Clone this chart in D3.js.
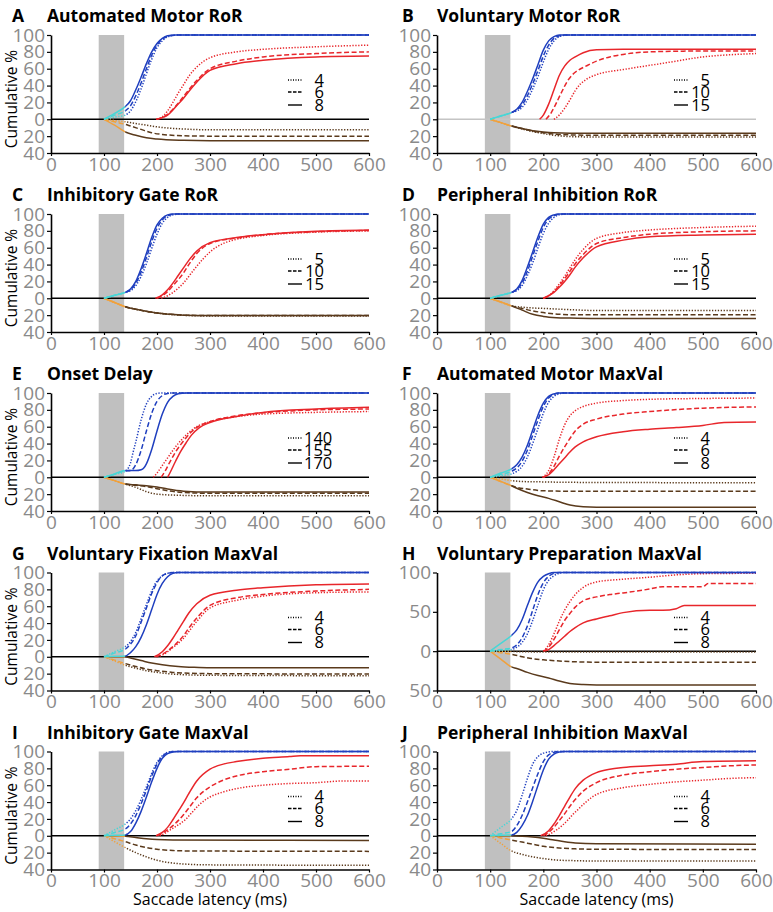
<!DOCTYPE html>
<html><head><meta charset="utf-8">
<script src="https://cdn.jsdelivr.net/npm/d3@7"></script>
<style>
html,body{margin:0;padding:0;background:#fff;}
svg{display:block;font-family:"Open Sans",sans-serif;}
</style></head>
<body>
<script>
// ---------- data (each series: [latency ms, cumulative %]) ; order: dotted, dashed, solid ----------
const letters = ["A","B","C","D","E","F","G","H","I","J"];
const titles = ["Automated Motor RoR","Voluntary Motor RoR","Inhibitory Gate RoR","Peripheral Inhibition RoR","Onset Delay","Automated Motor MaxVal","Voluntary Fixation MaxVal","Voluntary Preparation MaxVal","Inhibitory Gate MaxVal","Peripheral Inhibition MaxVal"];
const legends = [["4","6","8"],["5","10","15"],["5","10","15"],["5","10","15"],["140","155","170"],["4","6","8"],["4","6","8"],["4","6","8"],["4","6","8"],["4","6","8"]];
const xTicks = [0,100,200,300,400,500,600];
const yTicks = [100,80,60,40,20,0,-20,-40];
const yTicksH = [100,50,0,-50];
const stimWindow = [90,138];

const A_blue = [
 [[100,0],[120,2.5],[140,5],[150,10],[160,21],[170,36],[180,54],[190,71],[200,85],[210,93],[220,98],[240,100],[600,100]],
 [[100,0],[120,5],[140,10],[150,16],[160,28],[170,43],[180,60],[190,76],[200,88],[210,95],[220,98.5],[240,100],[600,100]],
 [[100,0],[120,7],[140,15],[150,22],[160,35],[170,50],[180,66],[190,80],[200,90],[210,96],[220,99],[235,100],[600,100]]];
const A_red = [
 [[200,0],[210,3],[220,10],[230,20],[240,31],[250,41],[260,51],[275,62],[300,73],[350,80],[400,83],[500,86],[600,88]],
 [[200,0],[210,2],[220,6],[230,12],[240,19],[250,27],[260,35],[275,46],[300,60],[350,69],[400,74],[500,78],[600,80]],
 [[198,0],[210,2],[220,5],[230,11],[240,18],[250,25],[260,33],[275,44],[300,58],[350,66],[400,70],[500,74],[600,75]]];
const A_brown = [
 [[100,0],[120,-1.5],[140,-3],[160,-5],[180,-7],[200,-9],[250,-11.5],[300,-12.5],[600,-12.5]],
 [[100,0],[120,-3],[140,-6],[150,-8],[170,-12],[190,-16],[210,-18],[250,-19.5],[300,-20],[600,-20]],
 [[100,0],[120,-7],[140,-15],[160,-19],[180,-22],[200,-23.5],[250,-25],[300,-25.5],[600,-25.5]]];

const B_blue = [
 [[100,0],[120,4],[140,8],[150,10],[160,14],[170,23],[180,36],[190,51],[200,68],[210,83],[220,93],[230,98],[245,100],[600,100]],
 [[100,0],[120,4],[140,8],[150,11],[160,17],[170,28],[180,42],[190,58],[200,75],[210,88],[220,96],[230,99],[240,100],[600,100]],
 [[100,0],[120,4],[140,8],[150,12],[160,20],[170,33],[180,48],[190,65],[200,82],[210,93],[220,98],[230,100],[600,100]]];
const B_red = [
 [[220,0],[230,5],[240,13],[250,23],[260,34],[270,42],[280,47],[300,53],[350,59],[400,64],[450,69],[500,74],[550,76.5],[600,78]],
 [[205,0],[215,8],[225,20],[235,33],[245,45],[255,53],[265,58],[280,63],[300,69],[325,74],[350,77],[400,80],[500,81],[600,81]],
 [[193,0],[200,5],[210,18],[220,35],[230,52],[240,63],[250,70],[260,74],[275,79],[300,82.5],[350,83],[600,83]]];
const B_brown = [
 [[100,0],[120,-4],[140,-8],[160,-11.5],[180,-14.5],[200,-17],[220,-19],[250,-20.5],[300,-21],[600,-21]],
 [[100,0],[120,-4],[140,-8],[160,-11],[180,-14],[200,-16],[220,-17.5],[250,-18.5],[300,-19],[600,-19]],
 [[100,0],[120,-4],[140,-8],[160,-11],[180,-13.5],[200,-15],[220,-16],[250,-16.5],[600,-16.5]]];

const C_blue = [
 [[100,0],[120,3.5],[140,7],[150,9],[160,15],[170,26],[180,41],[190,59],[200,76],[210,89],[220,96],[230,99],[245,100],[600,100]],
 [[100,0],[120,3.5],[140,7],[150,10],[160,18],[170,31],[180,48],[190,67],[200,83],[210,93],[220,98],[235,100],[600,100]],
 [[100,0],[120,3.5],[140,7],[150,11],[160,20],[170,35],[180,53],[190,72],[200,87],[210,95],[220,99],[230,100],[600,100]]];
const C_red = [
 [[208,0],[220,3],[230,7],[240,12],[250,18],[260,26],[275,38],[300,55],[325,65],[350,70],[400,74.5],[500,78.5],[600,80]],
 [[200,0],[210,3],[220,8],[230,15],[240,22],[250,30],[260,40],[275,53],[300,65],[350,71.5],[400,75.5],[500,79],[600,80.5]],
 [[197,0],[210,4],[220,10],[230,18],[240,27],[250,36],[260,45],[275,56],[300,66],[350,72],[400,75.5],[500,79.5],[600,81]]];
const C_brown = [
 [[100,0],[120,-5],[140,-10],[160,-13],[180,-15.5],[200,-17.5],[225,-19.2],[250,-20.2],[300,-21],[600,-21]],
 [[100,0],[120,-5],[140,-10],[160,-13],[180,-15.5],[200,-17.5],[225,-19],[250,-20],[300,-20.5],[600,-20.5]],
 [[100,0],[120,-5],[140,-10],[160,-13],[180,-15.5],[200,-17.5],[225,-19],[250,-20],[300,-20.5],[600,-20.5]]];

const D_blue = [
 [[100,0],[120,3.5],[140,7],[150,9],[160,15],[170,27],[180,42],[190,60],[200,77],[210,89],[220,96],[230,99],[245,100],[600,100]],
 [[100,0],[120,3.5],[140,7],[150,10],[160,18],[170,32],[180,50],[190,68],[200,84],[210,94],[220,98],[235,100],[600,100]],
 [[100,0],[120,3.5],[140,7],[150,11],[160,21],[170,37],[180,55],[190,73],[200,88],[210,96],[220,99],[230,100],[600,100]]];
const D_red = [
 [[200,0],[210,3],[220,9],[230,17],[240,26],[250,36],[260,46],[275,58],[300,71],[350,78],[400,81],[500,84],[600,85.5]],
 [[200,0],[210,3],[220,8],[230,15],[240,23],[250,32],[260,41],[275,52],[300,65],[350,72],[400,76],[500,79],[600,80]],
 [[200,0],[210,3],[220,7],[230,13],[240,20],[250,28],[260,37],[275,48],[300,61],[350,69],[400,73],[500,75],[600,76]]];
const D_brown = [
 [[100,0],[120,-4.5],[140,-9],[160,-10.5],[180,-11.5],[200,-12],[250,-13.5],[300,-14.5],[600,-14.5]],
 [[100,0],[120,-4.5],[140,-9],[160,-12],[180,-15],[200,-17],[230,-19],[260,-19.5],[600,-19.5]],
 [[100,0],[120,-4.5],[140,-9],[160,-14],[180,-19],[200,-21.5],[225,-23],[250,-23.5],[300,-24],[600,-24]]];

const E_blue = [
 [[100,0],[120,3.5],[140,7],[145,10],[150,17],[155,30],[160,42],[170,68],[180,87],[190,96],[200,99.5],[210,100],[600,100]],
 [[100,0],[120,3.7],[140,7.5],[150,8],[155,10],[160,15],[170,32],[180,55],[190,76],[200,90],[210,97],[220,99.5],[230,100],[600,100]],
 [[100,0],[120,4],[140,8],[160,8],[170,9],[175,11],[180,16],[190,33],[200,55],[210,75],[220,89],[230,96],[240,99],[255,100],[600,100]]];
const E_red = [
 [[193,0],[200,5],[210,14],[220,23],[230,32],[240,40],[250,47],[260,53],[275,60],[300,66],[350,72],[400,75],[500,77],[600,78]],
 [[208,0],[215,7],[225,19],[235,30],[245,39],[255,47],[265,54],[280,61],[300,66],[350,73],[400,76.5],[500,80],[600,81]],
 [[220,0],[225,6],[235,19],[245,31],[255,41],[265,50],[280,59],[300,65],[350,72],[400,77],[500,81],[600,83]]];
const E_brown = [
 [[100,0],[120,-4],[140,-8],[160,-12],[180,-17],[200,-20],[250,-21.5],[300,-22],[600,-22]],
 [[100,0],[120,-4],[140,-8],[160,-9.5],[180,-11],[200,-13.5],[220,-16],[250,-18],[300,-19],[600,-19]],
 [[100,0],[120,-4],[140,-8],[160,-9],[180,-10],[200,-11.5],[220,-14],[250,-16.5],[300,-17.5],[600,-17.5]]];

const F_blue = [
 [[100,0],[120,2],[140,4],[150,7],[160,13],[170,24],[180,40],[190,58],[200,76],[210,89],[220,96],[230,99],[240,100],[600,100]],
 [[100,0],[120,3.5],[140,7],[150,11],[160,19],[170,32],[180,50],[190,68],[200,84],[210,94],[220,98.5],[232,100],[600,100]],
 [[100,0],[120,5],[140,10],[150,15],[160,24],[170,38],[180,56],[190,74],[200,88],[210,96],[220,99],[228,100],[600,100]]];
const F_red = [
 [[198,0],[210,8],[220,24],[230,45],[240,62],[250,73],[260,79],[275,84],[300,88],[350,91],[400,92.5],[500,93.5],[600,94]],
 [[200,0],[210,4],[220,13],[230,25],[240,36],[250,46],[260,55],[275,63],[300,69],[350,75],[400,78],[500,82],[600,83.5]],
 [[200,0],[210,3],[220,9],[230,16],[240,23],[250,30],[260,36],[275,42],[300,48],[350,54],[400,57],[450,59],[500,61.5],[540,65],[600,65.5]]];
const F_brown = [
 [[100,0],[120,-2],[140,-4],[160,-5],[200,-5.5],[250,-6],[600,-6.5]],
 [[100,0],[120,-5],[140,-10],[150,-12],[170,-14],[200,-16],[250,-16.5],[600,-16.5]],
 [[100,0],[120,-5],[140,-10],[150,-13],[170,-18],[190,-22],[210,-25],[230,-29],[250,-33],[275,-35],[300,-35.5],[600,-35.5]]];

const G_blue = [
 [[100,0],[120,6],[140,12],[150,18],[160,29],[170,45],[180,62],[190,78],[200,90],[210,96],[220,99],[230,100],[600,100]],
 [[100,0],[120,4.5],[140,9],[150,15],[160,25],[170,41],[180,58],[190,75],[200,88],[210,96],[220,99],[232,100],[600,100]],
 [[100,0],[120,0.5],[140,1],[150,5],[160,12],[170,23],[180,38],[190,56],[200,74],[210,87],[220,95],[230,99],[240,100],[600,100]]];
const G_red = [
 [[200,0],[210,2],[220,6],[230,11],[240,16],[250,22],[260,30],[275,42],[300,58],[350,67],[400,72],[500,76],[600,77]],
 [[198,0],[210,3],[220,7],[230,12],[240,18],[250,25],[260,34],[275,46],[300,61],[350,70],[400,74],[500,78],[600,80]],
 [[195,0],[210,6],[220,13],[230,22],[240,32],[250,42],[260,52],[275,63],[300,73],[350,79],[400,82],[500,85.5],[600,86.5]]];
const G_brown = [
 [[100,0],[120,-5],[140,-10],[160,-13.5],[180,-16.5],[200,-18.5],[230,-20.5],[260,-21.5],[300,-22],[600,-22.5]],
 [[100,0],[120,-4],[140,-8],[160,-11.5],[180,-14.5],[200,-16.5],[230,-18.5],[260,-19.5],[300,-20],[600,-20.5]],
 [[100,0],[120,0],[140,0],[150,-1.5],[170,-4.5],[190,-7.5],[210,-9.5],[240,-11.5],[270,-12.5],[300,-13],[600,-13]]];

const H_blue = [
 [[100,0],[120,1],[140,2],[150,5],[160,11],[170,22],[180,39],[190,59],[200,78],[210,90],[220,96],[230,99],[240,100],[600,100]],
 [[100,0],[120,2],[140,4],[150,8],[160,17],[170,32],[180,52],[190,72],[200,87],[210,95],[220,99],[230,100],[600,100]],
 [[100,0],[120,10],[140,20],[150,27],[160,40],[170,58],[180,75],[190,88],[200,95],[210,98.5],[220,100],[600,100]]];
const H_red = [
 [[200,0],[210,8],[220,22],[230,38],[240,52],[250,63],[260,72],[275,81],[300,88],[350,91.5],[400,94],[450,97],[500,98.5],[600,99]],
 [[200,0],[210,5],[220,15],[230,27],[240,39],[250,48],[260,56],[275,64],[300,69],[325,72],[350,74],[400,79],[425,82],[500,82],[510,86],[600,86]],
 [[200,0],[210,2],[220,7],[230,13],[240,19],[250,25],[260,30],[275,36],[300,41],[325,45],[350,49],[400,52],[425,52],[450,54],[465,58],[600,58]]];
const H_brown = [
 [[100,0],[140,-0.5],[200,-1],[600,-1]],
 [[100,0],[120,-2],[140,-4],[160,-7],[180,-9.5],[200,-11],[230,-12.5],[260,-13.5],[300,-14],[600,-14]],
 [[100,0],[120,-10],[140,-20],[150,-22],[170,-27],[190,-31],[210,-34],[230,-38],[250,-41],[275,-42.5],[300,-43],[600,-43]]];

const I_blue = [
 [[100,0],[120,7],[140,14],[150,20],[160,30],[170,43],[180,58],[190,74],[200,87],[210,95],[220,99],[230,100],[600,100]],
 [[100,0],[120,4],[140,8],[150,14],[160,24],[170,38],[180,54],[190,71],[200,85],[210,94],[220,98.5],[232,100],[600,100]],
 [[100,0],[120,0.5],[140,1],[150,5],[160,15],[170,29],[180,46],[190,64],[200,80],[210,92],[220,97.5],[230,99.5],[240,100],[600,100]]];
const I_red = [
 [[205,0],[215,3],[225,7],[235,11],[245,15],[255,20],[265,27],[280,37],[300,46],[325,52],[350,56],[400,60],[450,62],[500,63],[550,65],[600,65]],
 [[200,0],[210,3],[220,7],[230,12],[240,18],[250,25],[260,33],[275,45],[300,58],[325,66],[350,71],[400,76],[450,79],[500,82],[600,82.5]],
 [[198,0],[210,4],[220,10],[230,19],[240,29],[250,39],[260,50],[275,65],[300,79],[325,85],[350,88],[400,92],[450,94],[470,95],[600,95]]];
const I_brown = [
 [[100,0],[120,-7],[140,-14],[160,-20],[180,-25],[200,-29],[225,-32],[250,-33.5],[300,-34.5],[600,-35]],
 [[100,0],[120,-3.5],[140,-7],[160,-11],[180,-14],[200,-16],[230,-17.5],[260,-18],[600,-18.5]],
 [[100,0],[140,-0.5],[160,-2],[180,-3.5],[200,-4.5],[230,-5],[600,-5.5]]];

const J_blue = [
 [[100,0],[120,10],[140,20],[150,30],[160,48],[170,68],[180,85],[190,94],[200,98],[210,99.5],[215,100],[600,100]],
 [[100,0],[120,2.5],[140,5],[150,12],[160,24],[170,40],[180,57],[190,74],[200,88],[210,96],[220,99],[230,100],[600,100]],
 [[100,0],[120,0.5],[140,1],[150,4],[160,12],[170,24],[180,41],[190,60],[200,78],[210,91],[220,97],[230,99.5],[240,100],[600,100]]];
const J_red = [
 [[205,0],[215,3],[225,7],[235,12],[245,18],[255,25],[265,31],[280,40],[300,49],[350,57],[400,61],[450,64],[500,66],[550,68],[600,69]],
 [[200,0],[210,4],[220,10],[230,18],[240,26],[250,35],[260,43],[275,53],[300,63],[350,72],[400,76],[450,79],[500,81],[550,83],[600,84]],
 [[195,0],[210,6],[220,14],[230,24],[240,35],[250,46],[260,56],[275,66],[300,75],[325,79],[350,81],[400,83],[450,85],[500,88],[600,89]]];
const J_brown = [
 [[100,0],[120,-9],[140,-18],[160,-22],[180,-25],[200,-27],[230,-29],[260,-29.5],[300,-30],[600,-30]],
 [[100,0],[120,-2.5],[140,-5],[160,-7.5],[180,-10],[200,-12.5],[230,-14.5],[260,-15.5],[300,-16],[600,-16.3]],
 [[100,0],[140,0],[160,-0.5],[180,-1.5],[200,-3],[220,-5],[240,-7],[260,-8.5],[300,-9.5],[600,-10]]];

// ---------- layout / styles ----------
const blues = [A_blue,B_blue,C_blue,D_blue,E_blue,F_blue,G_blue,H_blue,I_blue,J_blue];
const reds = [A_red,B_red,C_red,D_red,E_red,F_red,G_red,H_red,I_red,J_red];
const browns = [A_brown,B_brown,C_brown,D_brown,E_brown,F_brown,G_brown,H_brown,I_brown,J_brown];

const W = 773, H = 912;
const colX0 = [51, 437], colX1 = [369, 756];
const rowTop = [35, 214, 393, 572.5, 751.5];
const plotH = 118;
const dashes = ["1.3,1.6", "5,2.5", null];
const C = {blue:"#1f3fbf", red:"#e8262b", brown:"#5a3a1c", cyan:"#48d6d6", orange:"#f0a13c", grey:"#c0c0c0", tick:"#8a8a8a"};

const svg = d3.select("body").append("svg").attr("width", W).attr("height", H);
const defs = svg.append("defs");

letters.forEach((L, i) => {
  const col = i % 2, row = Math.floor(i / 2);
  const x = d3.scaleLinear().domain([0, 600]).range([colX0[col], colX1[col]]);
  const isH = L === "H";
  const y = d3.scaleLinear().domain(isH ? [-50, 100] : [-40, 100]).range([rowTop[row] + plotH, rowTop[row]]);
  const g = svg.append("g");

  defs.append("clipPath").attr("id", "early" + L).append("rect")
    .attr("x", x(0)).attr("y", y.range()[1] - 5).attr("width", x(140) - x(0)).attr("height", plotH + 10);
  defs.append("clipPath").attr("id", "late" + L).append("rect")
    .attr("x", x(140)).attr("y", y.range()[1] - 5).attr("width", x(600) - x(140) + 2).attr("height", plotH + 10);

  g.append("rect").attr("x", x(stimWindow[0])).attr("width", x(stimWindow[1]) - x(stimWindow[0]))
    .attr("y", y.range()[1]).attr("height", plotH).attr("fill", C.grey);

  g.append("line").attr("x1", x(0)).attr("x2", x(600)).attr("y1", y(0)).attr("y2", y(0))
    .attr("stroke", L === "B" ? "#c4c4c4" : "#000").attr("stroke-width", 1.5);

  const line = d3.line().x(d => x(d[0])).y(d => y(d[1])).curve(d3.curveMonotoneX);
  const draw = (series, color, clip) => {
    series.forEach((s, k) => {
      const p = g.append("path").attr("d", line(s)).attr("fill", "none").attr("stroke", color)
        .attr("stroke-width", 1.5);
      if (dashes[k]) p.attr("stroke-dasharray", dashes[k]);
      if (clip) p.attr("clip-path", `url(#${clip}${L})`);
    });
  };
  draw(reds[i], C.red, null);
  draw(browns[i], C.orange, "early");
  draw(browns[i], C.brown, "late");
  draw(blues[i], C.cyan, "early");
  draw(blues[i], C.blue, "late");

  const xa = g.append("g").attr("transform", `translate(0,${y.range()[0]})`)
    .call(d3.axisBottom(x).tickValues(xTicks).tickSize(3).tickSizeOuter(0).tickPadding(1));
  const ya = g.append("g").attr("transform", `translate(${x(0)},0)`)
    .call(d3.axisLeft(y).tickValues(isH ? yTicksH : yTicks).tickSize(4).tickSizeOuter(0).tickPadding(2)
      .tickFormat(d => Math.abs(d)));
  [xa, ya].forEach(a => {
    a.select(".domain").attr("stroke", "#000").attr("stroke-width", 1.6);
    a.selectAll(".tick line").attr("stroke", "#000").attr("stroke-width", 1.2);
    a.selectAll(".tick text").attr("fill", C.tick).attr("font-size", 19)
      .attr("font-family", "'Open Sans',sans-serif");
  });

  svg.append("text").attr("x", col ? 402 : 12).attr("y", rowTop[row] - 13).text(L)
    .attr("font-weight", "bold").attr("font-size", 17.5).attr("fill", "#000");
  svg.append("text").attr("x", col ? 437 : 47).attr("y", rowTop[row] - 13).text(titles[i])
    .attr("font-weight", "bold").attr("font-size", 17.5).attr("fill", "#000");

  if (col === 0) {
    svg.append("text").attr("transform", `translate(17,${rowTop[row] + 64}) rotate(-90)`)
      .attr("text-anchor", "middle").attr("font-size", 15.5).attr("fill", "#000").text("Cumulative %");
  }
  if (row === 4) {
    svg.append("text").attr("x", (colX0[col] + colX1[col]) / 2).attr("y", 905)
      .attr("text-anchor", "middle").attr("font-size", 16).attr("fill", "#000").text("Saccade latency (ms)");
  }

  const ly = [45, 57, 70];
  legends[i].forEach((lab, k) => {
    const yy = rowTop[row] + ly[k];
    const ln = g.append("line").attr("x1", x(0) + 237).attr("x2", x(0) + 251).attr("y1", yy).attr("y2", yy)
      .attr("stroke", "#000").attr("stroke-width", 1.4);
    if (dashes[k]) ln.attr("stroke-dasharray", k === 0 ? "1,1.5" : "3.5,1.5");
    const t = g.append("text").attr("y", yy).attr("dy", "0.35em").attr("font-size", 16.5).attr("fill", "#000").text(lab);
    if (lab.length > 2) t.attr("x", x(0) + 253).attr("text-anchor", "start");
    else t.attr("x", x(0) + 273).attr("text-anchor", "end");
  });
});
</script>
</body></html>
